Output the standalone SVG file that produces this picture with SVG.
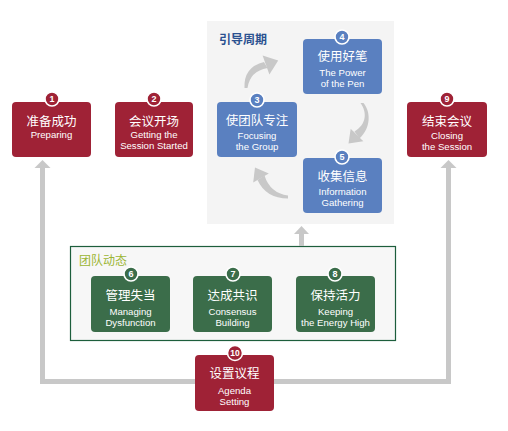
<svg xmlns="http://www.w3.org/2000/svg" width="508" height="431" viewBox="0 0 508 431">
<style>
.red{fill:#9f2236}
.blue{fill:#5a80c0}
.green{fill:#3b6d4a}
.zh{font-family:"Noto Sans CJK SC","Noto Sans",sans-serif;font-size:12.5px;fill:#fff;text-anchor:middle}
.en{font-family:"Liberation Sans",Arial,sans-serif;font-size:9.6px;fill:#fff;text-anchor:middle}
.num{font-family:"Liberation Sans",Arial,sans-serif;font-size:9px;fill:#fff;text-anchor:middle;font-weight:bold}
.ring{stroke:#fff;stroke-width:1.6}
.conn{fill:#c8c8c8}
.line{stroke:#c8c8c8;stroke-width:5;fill:none}
</style>
<rect x="0" y="0" width="508" height="431" fill="#fff"/>
<g id="cycle-panel">
<rect x="207" y="21" width="187" height="203" fill="#f4f4f4"/>
<text x="219" y="44" style="font-family:'Noto Sans CJK SC',sans-serif;font-size:12px;font-weight:bold;fill:#2b5190">引导周期</text>
</g>
<g id="dynamics-panel">
<rect x="70.5" y="246.5" width="325" height="94" fill="#f7f7f7" stroke="#1d5e3c" stroke-width="1.2"/>
<text x="79" y="265" style="font-family:'Noto Sans CJK SC',sans-serif;font-size:12px;fill:#9bb533">团队动态</text>
</g>
<g id="connectors">
<polyline class="line" points="235,381.5 42.5,381.5 42.5,167"/>
<polygon class="conn" points="34.5,168 50.5,168 42.5,160"/>
<polyline class="line" points="235,381.5 448.5,381.5 448.5,167"/>
<polygon class="conn" points="440.5,168 456.5,168 448.5,160"/>
<rect class="conn" x="299" y="233" width="5" height="13"/>
<polygon class="conn" points="294,234 309,234 301.5,226"/>
<path class="conn" d="M244.5,88 Q243.5,67 264,62 L267.5,68 Q250,71 247.5,88 Z"/>
<polygon class="conn" points="262.6,55.6 278.2,60.6 269.4,74.4"/>
<path class="conn" d="M360.5,103 C367,112 367,124 354.5,131.5 L359.5,138.5 C371,128 371,112 363.5,103 Z"/>
<polygon class="conn" points="363.3,141.3 348.5,143.5 350.7,128.7"/>
<path class="conn" d="M288,195.5 Q270,193 264.5,175.5 L257.5,180 Q266,198.5 288,198.5 Z"/>
<polygon class="conn" points="268.8,173.5 255,167.6 253.2,182.5"/>
</g>
<g id="n1">
<rect class="red" x="12" y="102" width="79" height="55" rx="4"/>
<circle class="red ring" cx="52" cy="99" r="7"/>
<text class="num" x="52" y="102.2">1</text>
<text class="zh" x="51.5" y="125.5">准备成功</text>
<text class="en" x="51.5" y="137.5">Preparing</text>
</g>
<g id="n2">
<rect class="red" x="115" y="102" width="78" height="55" rx="4"/>
<circle class="red ring" cx="154" cy="99" r="7"/>
<text class="num" x="154" y="102.2">2</text>
<text class="zh" x="154" y="125.5">会议开场</text>
<text class="en" x="154" y="137.5">Getting the</text>
<text class="en" x="154" y="149">Session Started</text>
</g>
<g id="n3">
<rect class="blue" x="217" y="102" width="80" height="55" rx="4"/>
<circle class="blue ring" cx="257" cy="100" r="7"/>
<text class="num" x="257" y="103.2">3</text>
<text class="zh" x="257" y="124.5">使团队专注</text>
<text class="en" x="257" y="139">Focusing</text>
<text class="en" x="257" y="150">the Group</text>
</g>
<g id="n4">
<rect class="blue" x="303" y="39" width="79" height="55" rx="4"/>
<circle class="blue ring" cx="342" cy="37" r="7"/>
<text class="num" x="342" y="40.2">4</text>
<text class="zh" x="342.5" y="60.5">使用好笔</text>
<text class="en" x="342.5" y="75.5">The Power</text>
<text class="en" x="342.5" y="86.5">of the Pen</text>
</g>
<g id="n5">
<rect class="blue" x="303" y="158" width="79" height="55" rx="4"/>
<circle class="blue ring" cx="342" cy="157" r="7"/>
<text class="num" x="342" y="160.2">5</text>
<text class="zh" x="342.5" y="181">收集信息</text>
<text class="en" x="342.5" y="195">Information</text>
<text class="en" x="342.5" y="206">Gathering</text>
</g>
<g id="n6">
<rect class="green" x="91" y="276" width="79" height="56" rx="4"/>
<circle class="green ring" cx="131" cy="274" r="7"/>
<text class="num" x="131" y="277.2">6</text>
<text class="zh" x="130.5" y="299.5">管理失当</text>
<text class="en" x="130.5" y="314.5">Managing</text>
<text class="en" x="130.5" y="325.5">Dysfunction</text>
</g>
<g id="n7">
<rect class="green" x="193" y="276" width="79" height="56" rx="4"/>
<circle class="green ring" cx="233" cy="274" r="7"/>
<text class="num" x="233" y="277.2">7</text>
<text class="zh" x="232.5" y="299.5">达成共识</text>
<text class="en" x="232.5" y="314.5">Consensus</text>
<text class="en" x="232.5" y="325.5">Building</text>
</g>
<g id="n8">
<rect class="green" x="296" y="276" width="79" height="56" rx="4"/>
<circle class="green ring" cx="335" cy="274" r="7"/>
<text class="num" x="335" y="277.2">8</text>
<text class="zh" x="335.5" y="299.5">保持活力</text>
<text class="en" x="335.5" y="314.5">Keeping</text>
<text class="en" x="335.5" y="325.5">the Energy High</text>
</g>
<g id="n9">
<rect class="red" x="407" y="102" width="80" height="55" rx="4"/>
<circle class="red ring" cx="447" cy="99" r="7"/>
<text class="num" x="447" y="102.2">9</text>
<text class="zh" x="447" y="125.5">结束会议</text>
<text class="en" x="447" y="138.5">Closing</text>
<text class="en" x="447" y="149.5">the Session</text>
</g>
<g id="n10">
<rect class="red" x="195" y="355" width="79" height="56" rx="4"/>
<circle class="red ring" cx="235" cy="353" r="7.5"/>
<text class="num" x="235" y="356.2" style="font-size:8.5px">10</text>
<text class="zh" x="234.5" y="377.5">设置议程</text>
<text class="en" x="234.5" y="393.5">Agenda</text>
<text class="en" x="234.5" y="404.5">Setting</text>
</g>
</svg>
